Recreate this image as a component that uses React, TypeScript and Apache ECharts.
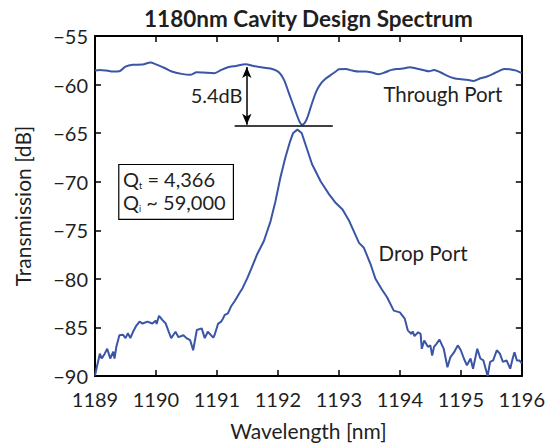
import React, { useEffect, useRef } from "react";
import * as echarts from "echarts";

const chartTitle = "1180nm Cavity Design Spectrum";
const xAxisName = "Wavelength [nm]";
const yAxisName = "Transmission [dB]";

const xMin = 1189;
const xMax = 1196;
const yMin = -90;
const yMax = -55;

const throughWavelengths = [
  1189.0, 1189.08, 1189.19, 1189.3, 1189.4, 1189.5, 1189.62, 1189.78, 1189.91, 1189.99,
  1190.15, 1190.26, 1190.42, 1190.56, 1190.67, 1190.77, 1190.96, 1191.07, 1191.18, 1191.31,
  1191.47, 1191.6, 1191.75, 1191.92, 1192.02, 1192.1, 1192.18, 1192.28, 1192.36, 1192.4,
  1192.47, 1192.55, 1192.63, 1192.71, 1192.79, 1192.87, 1192.95, 1193.0, 1193.11, 1193.22,
  1193.33, 1193.44, 1193.54, 1193.65, 1193.76, 1193.86, 1193.97, 1194.08, 1194.16, 1194.27,
  1194.38, 1194.48, 1194.56, 1194.67, 1194.78, 1194.89, 1195.0, 1195.1, 1195.21, 1195.32,
  1195.43, 1195.53, 1195.64, 1195.72, 1195.8, 1195.91, 1196.0,
];
const throughValues = [
  -58.56, -58.49, -58.56, -58.66, -58.63, -58.15, -57.97, -57.94, -57.73, -57.9,
  -58.32, -58.66, -58.9, -59.0, -58.73, -58.76, -58.83, -58.49, -58.22, -58.08,
  -57.9, -58.08, -58.25, -58.42, -58.76, -59.51, -60.88, -62.6, -63.89, -64.13,
  -63.6, -62.1, -60.7, -59.86, -59.35, -59.0, -58.66, -58.42, -58.39, -58.56,
  -58.66, -58.66, -58.76, -58.93, -58.73, -58.49, -58.39, -58.32, -58.22, -58.35,
  -58.49, -58.63, -58.49, -58.76, -59.1, -59.35, -59.45, -59.51, -59.62, -59.35,
  -59.17, -58.9, -58.56, -58.39, -58.42, -58.56, -58.83,
];

const dropWavelengths = [
  1189.0, 1189.03, 1189.08, 1189.11, 1189.16, 1189.2, 1189.25, 1189.3, 1189.32, 1189.35,
  1189.4, 1189.46, 1189.5, 1189.54, 1189.58, 1189.62, 1189.67, 1189.73, 1189.78, 1189.86,
  1189.94, 1190.0, 1190.01, 1190.05, 1190.1, 1190.16, 1190.21, 1190.25, 1190.32, 1190.37,
  1190.45, 1190.5, 1190.56, 1190.61, 1190.67, 1190.75, 1190.8, 1190.85, 1190.94, 1190.96,
  1191.02, 1191.07, 1191.1, 1191.13, 1191.18, 1191.23, 1191.29, 1191.37, 1191.42, 1191.5,
  1191.56, 1191.66, 1191.77, 1191.88, 1191.96, 1192.04, 1192.12, 1192.2, 1192.25, 1192.32,
  1192.39, 1192.47, 1192.56, 1192.7, 1192.84, 1192.95, 1193.06, 1193.17, 1193.33, 1193.41,
  1193.52, 1193.6, 1193.7, 1193.79, 1193.9, 1194.0, 1194.08, 1194.13, 1194.19, 1194.21,
  1194.24, 1194.3, 1194.34, 1194.36, 1194.4, 1194.46, 1194.5, 1194.53, 1194.56, 1194.6,
  1194.65, 1194.72, 1194.78, 1194.83, 1194.89, 1194.95, 1195.0, 1195.05, 1195.1, 1195.16,
  1195.2, 1195.27, 1195.32, 1195.37, 1195.4, 1195.44, 1195.48, 1195.53, 1195.59, 1195.64,
  1195.69, 1195.75, 1195.81, 1195.85, 1195.88, 1195.92, 1195.96, 1196.0,
];
const dropValues = [
  -89.94, -89.07, -87.7, -88.2, -87.7, -87.2, -88.2, -87.5, -88.2, -87.0,
  -85.8, -85.75, -86.1, -85.6, -86.1, -85.5, -84.9, -84.4, -84.6, -84.4,
  -84.6, -84.3, -84.65, -83.8, -84.2, -84.6, -85.45, -86.1, -85.45, -86.0,
  -85.8, -86.1, -86.3, -87.35, -85.27, -85.1, -86.1, -85.45, -86.05, -85.8,
  -84.6, -84.4, -84.07, -83.7, -83.55, -82.85, -82.3, -81.45, -80.96, -79.9,
  -79.0, -77.46, -76.1, -74.05, -72.0, -69.6, -67.55, -65.84, -64.98, -64.64,
  -64.98, -66.5, -68.2, -69.95, -71.3, -72.2, -72.85, -74.05, -76.3, -76.8,
  -78.5, -80.0, -81.05, -81.9, -83.27, -83.45, -84.1, -85.3, -85.67, -85.4,
  -85.9, -85.5, -85.67, -87.2, -86.35, -87.0, -86.85, -87.9, -87.0, -86.7,
  -86.25, -87.2, -89.1, -88.05, -87.55, -86.85, -87.35, -88.2, -88.9, -88.2,
  -89.25, -87.2, -88.2, -88.4, -89.1, -90.0, -88.55, -88.4, -87.35, -87.7,
  -88.55, -88.4, -89.25, -88.2, -87.55, -88.4, -88.4, -88.7,
];

// annotation anchors in data coordinates
const dipArrowX = 1191.49;
const dipTop = -58.2;
const dipBottom = -64.13;
const refLineY = -64.23;
const refLineStart = 1191.29;
const refLineEnd = 1192.9;
const dipLabel = "5.4dB";
const throughLabel = "Through Port";
const dropLabel = "Drop Port";
const qLines = [
  { sub: "t", rest: " = 4,366" },
  { sub: "i", rest: " ~ 59,000" },
];

const zip = (xs: number[], ys: number[]) => xs.map((x, i) => [x, ys[i]]);
const minusFmt = (v: number) => (v < 0 ? "\u2212" + Math.abs(v) : String(v));
const plainFmt = (v: number) => String(v);

export default function App() {
  const ref = useRef<HTMLDivElement>(null);
  useEffect(() => {
    const chart = echarts.init(ref.current!, null, { renderer: "svg" });
    const font = "Lato, 'DejaVu Sans', sans-serif";
    const blue = "#3a55a6";
    const ink = "#1f1f1f";
    const axisCommon = {
      type: "value",
      axisLine: { show: true, onZero: false, lineStyle: { color: "#000", width: 2 } },
      axisTick: { show: true, inside: true, length: 6, lineStyle: { color: "#000", width: 1.5 } },
      splitLine: { show: false },
    };
    chart.setOption({
      animation: false,
      backgroundColor: "#fff",
      grid: { left: 95, right: 19.5, top: 36, bottom: 69, containLabel: false },
      xAxis: [
        {
          ...axisCommon,
          position: "bottom",
          min: xMin,
          max: xMax,
          interval: 1,
          name: xAxisName,
          nameLocation: "middle",
          nameGap: 44,
          nameTextStyle: { fontFamily: font, fontSize: 21, color: ink },
          axisLabel: { fontFamily: font, fontSize: 20, color: ink, margin: 13, formatter: plainFmt },
        },
        {
          ...axisCommon,
          position: "top",
          min: xMin,
          max: xMax,
          interval: 1,
          axisLabel: { show: false },
        },
      ],
      yAxis: [
        {
          ...axisCommon,
          position: "left",
          min: yMin,
          max: yMax,
          interval: 5,
          name: yAxisName,
          nameLocation: "middle",
          nameGap: 62,
          nameTextStyle: { fontFamily: font, fontSize: 21, color: ink },
          axisLabel: { fontFamily: font, fontSize: 20, color: ink, margin: 7, formatter: minusFmt },
        },
        {
          ...axisCommon,
          position: "right",
          min: yMin,
          max: yMax,
          interval: 5,
          axisLabel: { show: false },
        },
      ],
      series: [
        {
          type: "line",
          name: throughLabel,
          data: zip(throughWavelengths, throughValues),
          showSymbol: false,
          smooth: 0.3,
          lineStyle: { color: blue, width: 2 },
          itemStyle: { color: blue },
          z: 3,
          markLine: {
            silent: true,
            symbol: ["arrow", "arrow"],
            symbolSize: [7, 11],
            label: { show: false },
            lineStyle: { color: "#000", width: 1.5, type: "solid" },
            emphasis: { disabled: true },
            data: [
              [{ coord: [dipArrowX, dipTop] }, { coord: [dipArrowX, dipBottom] }],
              [
                { coord: [refLineStart, refLineY], symbol: "none" },
                { coord: [refLineEnd, refLineY], symbol: "none" },
              ],
            ],
          },
        },
        {
          type: "line",
          name: dropLabel,
          data: zip(dropWavelengths, dropValues),
          showSymbol: false,
          lineStyle: { color: blue, width: 2 },
          itemStyle: { color: blue },
          z: 3,
        },
      ],
    });

    const P = (x: number, y: number) => chart.convertToPixel({ seriesIndex: 0 }, [x, y]) as number[];
    const textStyle = (text: string, size: number, extra: any = {}) => ({
      text,
      fontFamily: font,
      fontSize: size,
      fill: ink,
      ...extra,
    });

    const dip = P(1191.42, -61.05);
    const thr = P(1193.73, -60.95);
    const drp = P(1193.65, -77.29);
    const boxA = P(1189.39, -68.23);
    const boxB = P(1191.27, -73.87);
    const q1 = P(1189.46, -69.7);
    const q2 = P(1189.46, -72.1);
    const qPos = [q1, q2];
    const plotLeft = P(xMin, yMax);
    const plotRight = P(xMax, yMax);

    chart.setOption({
      graphic: [
        {
          type: "text",
          x: (plotLeft[0] + plotRight[0]) / 2,
          y: 18,
          style: textStyle(chartTitle, 22.5, { fontWeight: "bold", align: "center", verticalAlign: "middle" }),
        },
        {
          type: "text",
          x: dip[0],
          y: dip[1],
          style: textStyle(dipLabel, 20, { align: "right", verticalAlign: "middle" }),
        },
        {
          type: "text",
          x: thr[0],
          y: thr[1],
          style: textStyle(throughLabel, 20.5, { align: "left", verticalAlign: "middle" }),
        },
        {
          type: "text",
          x: drp[0],
          y: drp[1],
          style: textStyle(dropLabel, 20.5, { align: "left", verticalAlign: "middle" }),
        },
        {
          type: "rect",
          shape: { x: boxA[0], y: boxA[1], width: boxB[0] - boxA[0], height: boxB[1] - boxA[1] },
          style: { fill: "#fff", stroke: "#000", lineWidth: 1.2 },
          z: 10,
        },
        ...qLines.map((q, i) => ({
          type: "text",
          x: qPos[i][0],
          y: qPos[i][1],
          z: 11,
          style: {
            text: `{m|Q}{s|${q.sub}}{m|${q.rest}}`,
            align: "left",
            verticalAlign: "middle",
            rich: {
              m: { fontFamily: font, fontSize: 20, fill: ink, lineHeight: 22 },
              s: { fontFamily: font, fontSize: 9, fill: ink, verticalAlign: "bottom", lineHeight: 22 },
            },
          },
        })),
      ],
    });

    return () => chart.dispose();
  }, []);
  return (
    <div
      ref={ref}
      style={{ position: "fixed", left: 0, top: 0, width: 548, height: 446, background: "#fff" }}
    />
  );
}
